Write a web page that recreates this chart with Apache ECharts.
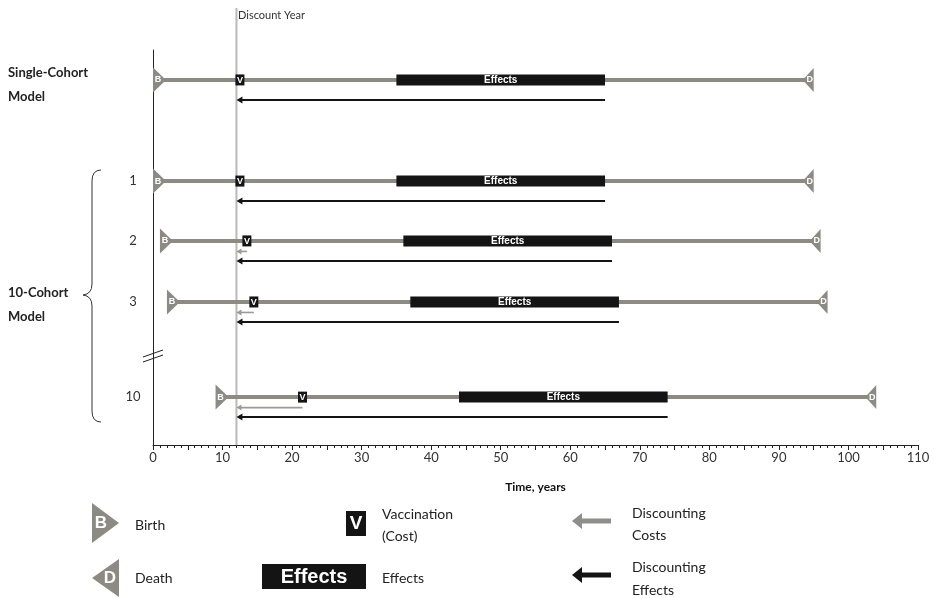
<!DOCTYPE html>
<html><head><meta charset="utf-8">
<script src="https://cdn.jsdelivr.net/npm/echarts@6/dist/echarts.min.js"></script>
<style>html,body{margin:0;padding:0;background:#fff}#c{width:934px;height:598px}</style>
</head><body><div id="c"></div>
<script>
// ---- data ----
const rowLabels = ['', '1', '2', '3', '10'];
const birthYear = [0, 0, 1, 2, 9];
const vaccinationYear = [12.5, 12.5, 13.5, 14.5, 21.5];
const effectsStart = [35, 35, 36, 37, 44];
const effectsEnd = [65, 65, 66, 67, 74];
const deathYear = [95, 95, 96, 97, 104];
const discountYear = 12;
const xMin = 0, xMax = 110, xLabelStep = 10;
// ---- layout (lane positions on a hidden axis) ----
const laneY = [0, 1.69, 2.69, 3.71, 5.3];

const FONT = 'Lato';
const GRAY = '#8b8b84';
const DARK = '#141414';

const data = birthYear.map((b, i) => [b, vaccinationYear[i], effectsStart[i], effectsEnd[i], deathYear[i], laneY[i]]);

function renderCohort(params, api) {
  const i = params.dataIndex;
  const lane = api.value(5);
  const y = api.coord([0, lane])[1];
  const X = v => api.coord([v, lane])[0];
  const xb = X(api.value(0)), xv = X(api.value(1)), xs = X(api.value(2)), xe = X(api.value(3)), xd = X(api.value(4));
  const xdisc = X(discountYear), x0 = X(0);
  const ch = [];
  ch.push({type: 'line', shape: {x1: xb + 6, y1: y, x2: xd - 6, y2: y}, style: {stroke: GRAY, lineWidth: 4}});
  ch.push({type: 'rect', shape: {x: xs, y: y - 5.5, width: xe - xs, height: 11}, style: {fill: DARK}});
  ch.push({type: 'text', x: (xs + xe) / 2, y: y, style: {text: 'Effects', fill: '#fff', font: 'bold 10px "Liberation Sans", Arial', align: 'center', verticalAlign: 'middle'}});
  ch.push({type: 'polygon', shape: {points: [[xb, y - 12.5], [xb + 13, y], [xb, y + 12.5]]}, style: {fill: GRAY}});
  ch.push({type: 'text', x: xb + 5, y: y, style: {text: 'B', fill: '#fff', font: 'bold 9px "Liberation Sans", Arial', align: 'center', verticalAlign: 'middle'}});
  ch.push({type: 'polygon', shape: {points: [[xd, y - 12], [xd - 11, y], [xd, y + 12]]}, style: {fill: GRAY}});
  ch.push({type: 'text', x: xd - 4, y: y, style: {text: 'D', fill: '#fff', font: 'bold 9px "Liberation Sans", Arial', align: 'center', verticalAlign: 'middle'}});
  ch.push({type: 'rect', shape: {x: xv - 4.5, y: y - 5.5, width: 9, height: 11}, style: {fill: DARK}});
  ch.push({type: 'text', x: xv, y: y + 0.5, style: {text: 'V', fill: '#fff', font: 'bold 9px "Liberation Sans", Arial', align: 'center', verticalAlign: 'middle'}});
  // effects discount arrow
  const ya = y + 20;
  ch.push({type: 'line', shape: {x1: xdisc + 5, y1: ya, x2: xe, y2: ya}, style: {stroke: DARK, lineWidth: 2}});
  ch.push({type: 'polygon', shape: {points: [[xdisc, ya], [xdisc + 6, ya - 3.5], [xdisc + 6, ya + 3.5]]}, style: {fill: DARK}});
  // cost discount arrow
  if (api.value(1) - discountYear >= 1) {
    const yc = y + 10.5;
    ch.push({type: 'line', shape: {x1: xdisc + 4, y1: yc, x2: xv, y2: yc}, style: {stroke: '#9a9a96', lineWidth: 1.6}});
    ch.push({type: 'polygon', shape: {points: [[xdisc, yc], [xdisc + 5, yc - 3], [xdisc + 5, yc + 3]]}, style: {fill: '#9a9a96'}});
  }
  if (rowLabels[i]) {
    ch.push({type: 'text', x: x0 - 20, y: y, style: {text: rowLabels[i], fill: '#333', font: '13px ' + FONT, align: 'center', verticalAlign: 'middle'}});
  }
  return {type: 'group', children: ch};
}

function renderDiscount(params, api) {
  const cs = params.coordSys;
  const x = api.coord([api.value(0), 0])[0];
  return {type: 'line', shape: {x1: x, y1: 8, x2: x, y2: cs.y + cs.height}, style: {stroke: '#b9b9b5', lineWidth: 2}};
}

const txt = (x, y, s, opt) => ({type: 'text', x: x, y: y, style: Object.assign({text: s, fill: '#222', font: '13px ' + FONT, verticalAlign: 'middle'}, opt || {})});
const braceStyle = {stroke: '#333', lineWidth: 1, fill: null};
const bez = (x1, y1, cx, cy, x2, y2) => ({type: 'bezierCurve', shape: {x1: x1, y1: y1, cpx1: cx, cpy1: cy, x2: x2, y2: y2}, style: braceStyle});
const seg = (x1, y1, x2, y2, st) => ({type: 'line', shape: {x1: x1, y1: y1, x2: x2, y2: y2}, style: st || braceStyle});

const graphic = [
  txt(238, 15, 'Discount Year', {font: '11px ' + FONT, fill: '#333'}),
  txt(8, 73, 'Single-Cohort', {font: 'bold 13px ' + FONT}),
  txt(8, 97, 'Model', {font: 'bold 13px ' + FONT}),
  txt(8, 293, '10-Cohort', {font: 'bold 13px ' + FONT}),
  txt(8, 317, 'Model', {font: 'bold 13px ' + FONT}),
  bez(101, 170, 92, 170, 92, 181),
  seg(92, 181, 92, 284),
  bez(92, 284, 92, 294, 83, 295),
  bez(83, 295, 92, 296, 92, 306),
  seg(92, 306, 92, 411),
  bez(92, 411, 92, 422, 101, 422),
  seg(143, 357, 163, 350, {stroke: '#222', lineWidth: 1}),
  seg(143, 362, 163, 355, {stroke: '#222', lineWidth: 1}),
  // legend
  {type: 'polygon', shape: {points: [[92, 503], [119, 523], [92, 543]]}, style: {fill: GRAY}},
  txt(101, 523, 'B', {fill: '#fff', font: 'bold 17px "Liberation Sans", Arial', align: 'center'}),
  txt(135, 525, 'Birth', {font: '14px ' + FONT}),
  {type: 'polygon', shape: {points: [[119, 559], [92, 578], [119, 597]]}, style: {fill: GRAY}},
  txt(110, 578, 'D', {fill: '#fff', font: 'bold 17px "Liberation Sans", Arial', align: 'center'}),
  txt(135, 578, 'Death', {font: '14px ' + FONT}),
  {type: 'rect', shape: {x: 346, y: 511, width: 20, height: 25}, style: {fill: DARK}},
  txt(356, 524, 'V', {fill: '#fff', font: 'bold 19px "Liberation Sans", Arial', align: 'center'}),
  txt(382, 514, 'Vaccination', {font: '14px ' + FONT}),
  txt(382, 536, '(Cost)', {font: '14px ' + FONT}),
  {type: 'rect', shape: {x: 262, y: 564, width: 104, height: 25}, style: {fill: DARK}},
  txt(314, 577, 'Effects', {fill: '#fff', font: 'bold 20px "Liberation Sans", Arial', align: 'center'}),
  txt(382, 578, 'Effects', {font: '14px ' + FONT}),
  seg(580, 521, 611, 521, {stroke: '#8e8e8a', lineWidth: 5}),
  {type: 'polygon', shape: {points: [[572, 521], [582, 513], [582, 529]]}, style: {fill: '#8e8e8a'}},
  txt(632, 513, 'Discounting', {font: '14px ' + FONT}),
  txt(632, 535, 'Costs', {font: '14px ' + FONT}),
  seg(580, 575, 611, 575, {stroke: DARK, lineWidth: 5}),
  {type: 'polygon', shape: {points: [[572, 575], [582, 567], [582, 583]]}, style: {fill: DARK}},
  txt(632, 567, 'Discounting', {font: '14px ' + FONT}),
  txt(632, 590, 'Effects', {font: '14px ' + FONT})
];

const chart = echarts.init(document.getElementById('c'), null, {renderer: 'canvas'});
chart.setOption({
  animation: false,
  backgroundColor: '#fff',
  grid: {left: 153, right: 16, top: 50, bottom: 153},
  xAxis: {
    type: 'value', min: xMin, max: xMax, interval: xLabelStep / 2,
    name: 'Time, years', nameLocation: 'middle', nameGap: 36,
    nameTextStyle: {fontFamily: FONT, fontWeight: 'bold', fontSize: 12, color: '#111'},
    axisLine: {onZero: false, lineStyle: {color: '#222', width: 1}},
    axisTick: {show: true, length: 5, lineStyle: {color: '#222'}},
    minorTick: {show: true, splitNumber: 5, length: 3, lineStyle: {color: '#222'}},
    axisLabel: {formatter: v => (v % xLabelStep === 0 ? String(v) : ''), fontFamily: FONT, fontSize: 13, color: '#333', margin: 6},
    splitLine: {show: false}
  },
  yAxis: {
    type: 'value', inverse: true, min: -0.5, max: 6.1,
    axisLine: {show: true, onZero: false, lineStyle: {color: '#222', width: 1}},
    axisTick: {show: false}, axisLabel: {show: false}, splitLine: {show: false}
  },
  series: [
    {type: 'custom', z: 1, renderItem: renderDiscount, data: [[discountYear, 0]], encode: {x: 0, y: 1}, silent: true},
    {type: 'custom', z: 2, renderItem: renderCohort, data: data, encode: {x: [0, 4], y: 5}, silent: true}
  ],
  graphic: graphic
});
</script></body></html>
